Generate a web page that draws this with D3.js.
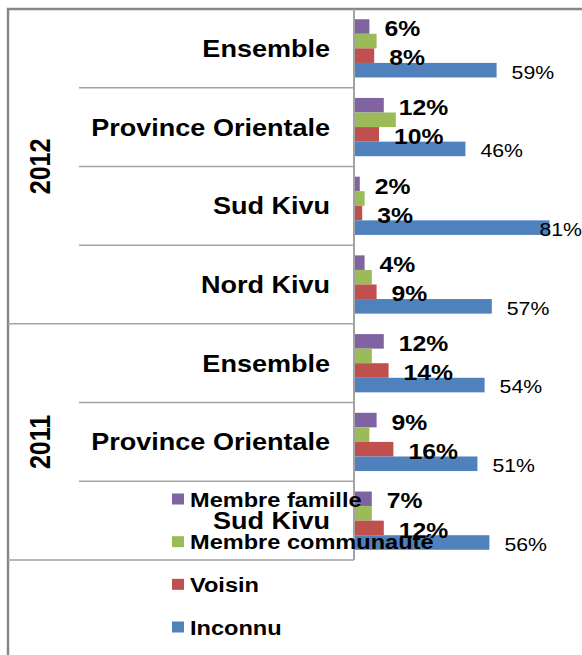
<!DOCTYPE html>
<html>
<head>
<meta charset="utf-8">
<script src="https://cdn.jsdelivr.net/npm/d3@7"></script>
<style>
  body { margin: 0; background: #fff; }
  svg { display: block; font-family: "Liberation Sans", Arial, sans-serif; }
</style>
</head>
<body>
<div id="chart"></div>
<script>
// Categories, top to bottom, grouped by year
const years = ["2012", "2011"];
const regions2012 = ["Ensemble", "Province Orientale", "Sud Kivu", "Nord Kivu"];
const regions2011 = ["Ensemble", "Province Orientale", "Sud Kivu"];

// Series (one value per category, same order as above)
const seriesNames = ["Membre famille", "Membre communauté", "Voisin", "Inconnu"];
const membreFamille = [6, 12, 2, 4, 12, 9, 7];
const membreCommunaute = [9, 17, 4, 7, 7, 6, 7];
const voisin = [8, 10, 3, 9, 14, 16, 12];
const inconnu = [59, 46, 81, 57, 54, 51, 56];
const seriesColors = ["#8064A2", "#9BBB59", "#C0504D", "#4F81BD"];

const W = 582, H = 655;
const sx = 1.15; // the picture is a bit wider than tall, text is stretched

const svg = d3.select("#chart")
    .append("svg")
    .attr("width", W)
    .attr("height", H);

// rows for the band scale
const rows = [];
regions2012.forEach(r => rows.push({year: "2012", region: r}));
regions2011.forEach(r => rows.push({year: "2011", region: r}));
rows.forEach((d, i) => {
    d.key = d.year + "|" + d.region;
    d.values = [membreFamille[i], membreCommunaute[i], voisin[i], inconnu[i]];
});

const axisX = 354;
const plotTop = 9, plotBottom = 560;

const y = d3.scaleBand()
    .domain(rows.map(d => d.key))
    .range([plotTop, plotBottom])
    .paddingInner(0.26)
    .paddingOuter(0.13);

const ySub = d3.scaleBand()
    .domain(seriesNames)
    .range([0, y.bandwidth()]);

const x = d3.scaleLinear()
    .domain([0, 100])
    .range([axisX + 1, axisX + 1 + 240]);

// Frame
svg.append("rect")
    .attr("x", 8)
    .attr("y", 9)
    .attr("width", W + 20)
    .attr("height", H + 20)
    .attr("fill", "none")
    .attr("stroke", "#878787")
    .attr("stroke-width", 2.5);

// Category separators
const step = y.step();
for (let i = 1; i <= rows.length; i++) {
    const yy = plotTop + i * step;
    const groupEdge = (i === regions2012.length || i === rows.length);
    svg.append("line")
        .attr("x1", groupEdge ? 8 : 79)
        .attr("x2", axisX)
        .attr("y1", yy)
        .attr("y2", yy)
        .attr("stroke", "#a3a3a3")
        .attr("stroke-width", 1.5);
}

// Bars
const rowG = svg.selectAll(".row")
    .data(rows)
    .enter()
    .append("g")
    .attr("class", "row")
    .attr("transform", d => `translate(0,${y(d.key)})`);

rowG.selectAll("rect")
    .data(d => d.values.map((v, i) => ({name: seriesNames[i], value: v, color: seriesColors[i]})))
    .enter()
    .append("rect")
    .attr("x", x(0))
    .attr("y", d => ySub(d.name))
    .attr("width", d => x(d.value) - x(0))
    .attr("height", ySub.bandwidth())
    .attr("fill", d => d.color);

// Axis line
svg.append("line")
    .attr("x1", axisX)
    .attr("x2", axisX)
    .attr("y1", plotTop)
    .attr("y2", plotBottom)
    .attr("stroke", "#a3a3a3")
    .attr("stroke-width", 2);

// Value labels (no label on "Membre communauté")
rowG.each(function(d) {
    const g = d3.select(this);
    [0, 2, 3].forEach(i => {
        const v = d.values[i];
        const isBlue = i === 3;
        const t = g.append("text")
            .attr("dy", "0.4em")
            .attr("text-anchor", "start")
            .style("font-size", isBlue ? "18.5px" : "21.5px")
            .style("font-weight", isBlue ? "normal" : "bold")
            .attr("fill", "#000")
            .text(v + "%");
        const w = t.node().getComputedTextLength() * sx;
        let lx = x(v) + 15;
        if (lx + w > W) lx = W - w;
        const ly = ySub(seriesNames[i]) + ySub.bandwidth() / 2 + 1;
        t.attr("transform", `translate(${lx},${ly}) scale(${sx},1)`);
    });
});

// Category labels
svg.selectAll(".cat")
    .data(rows)
    .enter()
    .append("text")
    .attr("class", "cat")
    .attr("transform", d => `translate(330,${y(d.key) + y.bandwidth() / 2 + 8.5}) scale(${sx},1)`)
    .attr("text-anchor", "end")
    .style("font-size", "23.5px")
    .style("font-weight", "bold")
    .text(d => d.region);

// Year labels
years.forEach(yr => {
    const keys = rows.filter(d => d.year === yr).map(d => d.key);
    const y0 = y(keys[0]) - y.step() * y.paddingInner() / 2;
    const y1 = y(keys[keys.length - 1]) + y.bandwidth() + y.step() * y.paddingInner() / 2;
    svg.append("text")
        .attr("transform", `translate(40,${(y0 + y1) / 2}) scale(${sx},1) rotate(-90)`)
        .attr("text-anchor", "middle")
        .attr("dominant-baseline", "central")
        .style("font-size", "25px")
        .style("font-weight", "bold")
        .text(yr);
});

// Legend
const legendY = d3.scalePoint()
    .domain(seriesNames)
    .range([499, 627]);

const legend = svg.append("g");
seriesNames.forEach((name, i) => {
    legend.append("rect")
        .attr("x", 172)
        .attr("y", legendY(name) - 5.5)
        .attr("width", 12)
        .attr("height", 11)
        .attr("fill", seriesColors[i]);
    legend.append("text")
        .attr("transform", `translate(190,${legendY(name) + 7.5}) scale(${sx},1)`)
        .style("font-size", "20.5px")
        .style("font-weight", "bold")
        .text(name);
});
</script>
</body>
</html>
